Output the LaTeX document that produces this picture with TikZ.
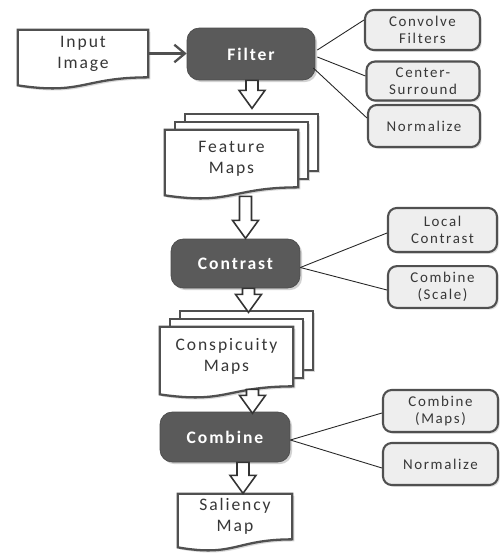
\documentclass[tikz,border=0pt]{standalone}
\usepackage{fontspec}
\setmainfont[LetterSpace=11]{Carlito}
\usetikzlibrary{calc,arrows.meta,shadows,backgrounds}
\definecolor{mydark}{RGB}{90,90,90}
\definecolor{myline}{RGB}{80,80,80}
\definecolor{mylight}{RGB}{238,238,238}
\definecolor{mytext}{RGB}{55,55,55}

\tikzset{
  stage/.style={rectangle,rounded corners=7pt,fill=mydark,draw=mydark!85!black,
    text=white,font=\bfseries\fontsize{10}{12}\selectfont,
    drop shadow={opacity=0.35,shadow xshift=1.2pt,shadow yshift=-1.2pt}},
  sub/.style={rectangle,rounded corners=5pt,fill=mylight,draw=myline,line width=1.2pt,
    text=mytext,align=center,font=\fontsize{8.5}{10}\selectfont,
    drop shadow={opacity=0.25,shadow xshift=1pt,shadow yshift=-1pt}},
  doc/.style={rectangle,inner sep=0pt,text=mytext,align=center,
    font=\fontsize{10}{12}\selectfont},
  docline/.style={draw=myline,line width=1.3pt,fill=white,
    drop shadow={opacity=0.3,shadow xshift=1.2pt,shadow yshift=-1.2pt}},
  link/.style={draw=black!85,line width=0.5pt},
  blockarr/.style={draw=black!80,line width=0.9pt,fill=white},
}

% page with a wavy lower edge, drawn round a doc node
\newcommand\docpath[1]{%
  \draw[docline] (#1.north west) -- (#1.north east) -- (#1.south east)
    .. controls (#1.south) and ($(#1.south)+(0,18)$) .. ($(#1.south west)+(0,8)$) -- cycle;}
% hollow block arrow pointing down, #2 = length
\newcommand\blockarrow[2]{%
  \draw[blockarr] ($(#1)+(-6,0)$) -- ++(0,{#2-18}) -- ++(-7,0) -- ++(13,18)
    -- ++(13,-18) -- ++(-7,0) -- ++(0,{18-#2}) -- cycle;}

\begin{document}
\begin{tikzpicture}[x=0.02cm,y=-0.02cm]
\useasboundingbox (0,0) rectangle (500,555);

% main column
\node[doc,minimum width=2.6cm,minimum height=0.94cm] (inimg) at (83,53.5) {Input\\Image};
\node[stage,minimum width=2.56cm,minimum height=1.04cm] (filter) at (251,54) {Filter};
\node[doc,minimum width=2.66cm,minimum height=1.14cm] (fmaps) at (231.5,158.5) {Feature\\Maps};
\node[stage,minimum width=2.58cm,minimum height=0.98cm] (contrast) at (235.5,263.5) {Contrast};
\node[doc,minimum width=2.66cm,minimum height=1.18cm] (cmaps) at (226.5,356.5) {Conspicuity\\Maps};
\node[stage,minimum width=2.6cm,minimum height=1.0cm] (combine) at (225,437) {Combine};
\node[doc,minimum width=2.28cm,minimum height=0.9cm] (smap) at (235,516.5) {Saliency\\Map};

% side steps
\node[sub,minimum width=2.3cm,minimum height=0.8cm] (conv) at (422.5,30) {Convolve\\Filters};
\node[sub,minimum width=2.26cm,minimum height=0.76cm] (csur) at (423,81) {Center-\\Surround};
\node[sub,minimum width=2.24cm,minimum height=0.84cm] (norma) at (424,126) {Normalize};
\node[sub,minimum width=2.18cm,minimum height=0.88cm] (lcon) at (442.5,230) {Local\\Contrast};
\node[sub,minimum width=2.18cm,minimum height=0.8cm] (cscale) at (442.5,287) {Combine\\(Scale)};
\node[sub,minimum width=2.3cm,minimum height=0.84cm] (cmapb) at (440.5,411) {Combine\\(Maps)};
\node[sub,minimum width=2.3cm,minimum height=0.84cm] (normb) at (440.5,464) {Normalize};

% pages behind the text
\begin{scope}[on background layer]
\fill[white] (0,0) rectangle (500,555);
\foreach \n in {fmaps,cmaps}{
  \foreach \dx/\dy in {20/-16,10/-8}
    \draw[docline] ($(\n.north west)+(\dx,\dy)$) rectangle ($(\n.south east)+(\dx,\dy)$);
  \docpath{\n}
}
\docpath{inimg}
\docpath{smap}
\end{scope}

\draw[-{Straight Barb[length=6pt,width=10pt]},line width=1.3pt,myline]
  (inimg.east) -- (inimg.east -| filter.west);

\blockarrow{$(filter.south)+(1,0)$}{28}
\blockarrow{$(fmaps.south)+(14,9)$}{42}
\blockarrow{$(contrast.south)+(13,0)$}{24}
\blockarrow{$(cmaps.south)+(26,3)$}{24}
\blockarrow{$(combine.south)+(18,0)$}{31}

\draw[link] ($(filter.east)+(2,-4)$) -- ($(conv.west)+(0,-10)$);
\draw[link] ($(filter.east)+(2,3)$) -- ($(csur.west)+(0,-5)$);
\draw[link] ($(filter.east)+(-2,14)$) -- ($(norma.west)+(0,-8)$);
\draw[link] ($(contrast.east)+(0,4)$) -- ($(lcon.west)+(0,3)$);
\draw[link] ($(contrast.east)+(0,4)$) -- ($(cscale.west)+(0,3)$);
\draw[link] ($(combine.east)+(0,3)$) -- ($(cmapb.west)+(0,2)$);
\draw[link] ($(combine.east)+(0,3)$) -- ($(normb.west)+(0,4)$);
\end{tikzpicture}
\end{document}
